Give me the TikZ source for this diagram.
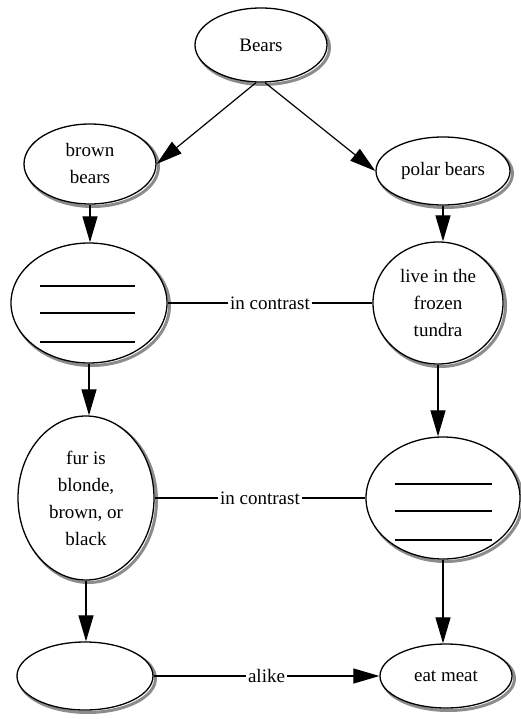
\documentclass[tikz,border=0pt]{standalone}
\usepackage{fontspec}
\setmainfont{Liberation Serif}
\usetikzlibrary{shapes.geometric,arrows.meta,calc}
\begin{document}
\begin{tikzpicture}[x=1pt,y=-1pt,
  bubble/.style={ellipse,draw=black,line width=1.3pt,fill=white,inner sep=0pt,align=center,
    font=\fontsize{19}{27}\selectfont,
    preaction={draw=black!45,line width=3pt,transform canvas={xshift=2.5pt,yshift=-2.5pt}}},
  link/.style={line width=1.2pt},
  arr/.style={link,-{Triangle[length=26pt,width=15pt]}},
  lbl/.style={fill=white,inner sep=2pt,font=\fontsize{19}{22}\selectfont},
  blankline/.style={line width=1.2pt}]
\useasboundingbox (0,0) rectangle (521,719);
% nodes
\node[bubble,minimum width=132pt,minimum height=74pt] (bears) at (261,45) {Bears};
\node[bubble,minimum width=132pt,minimum height=80pt] (brown) at (90,164) {brown\\bears};
\node[bubble,minimum width=134pt,minimum height=68pt] (polar) at (443,171) {polar bears};
\node[bubble,minimum width=156pt,minimum height=120pt] (b1) at (89,303) {};
\node[bubble,minimum width=130pt,minimum height=122pt] (tundra) at (438,303) {live in the\\frozen\\tundra};
\node[bubble,minimum width=136pt,minimum height=164pt] (fur) at (86,498) {fur is\\blonde,\\brown, or\\black};
\node[bubble,minimum width=154pt,minimum height=122pt] (b2) at (443,498) {};
\node[bubble,minimum width=136pt,minimum height=68pt] (b3) at (85,676) {};
\node[bubble,minimum width=132pt,minimum height=64pt] (eat) at (446,676) {eat meat};
% blank lines
\foreach \dy in {-17,10,39}{
  \draw[blankline] ($(b1)+(-49,\dy)$) -- ($(b1)+(46,\dy)$);
  \draw[blankline] ($(b2)+(-48,\dy+3)$) -- ($(b2)+(49,\dy+3)$);
}
% connectors
\draw[arr] ([xshift=-5pt]bears.south) -- (brown.east);
\draw[arr] ([xshift=4pt]bears.south) -- (polar.west);
\draw[arr] (brown.south) -- (brown.south |- b1.north);
\draw[arr] (polar.south) -- (polar.south |- tundra.north);
\draw[arr] (b1.south) -- (b1.south |- fur.north);
\draw[arr] (tundra.south) -- (tundra.south |- b2.north);
\draw[arr] (fur.south) -- (fur.south |- b3.north);
\draw[arr] (b2.south) -- (b2.south |- eat.north);
\draw[link] (b1.east) -- node[lbl]{in contrast} (tundra.west);
\draw[link] (fur.east) -- node[lbl]{in contrast} (b2.west);
\draw[arr] (b3.east) -- node[lbl]{alike} (eat.west);
\end{tikzpicture}
\end{document}
